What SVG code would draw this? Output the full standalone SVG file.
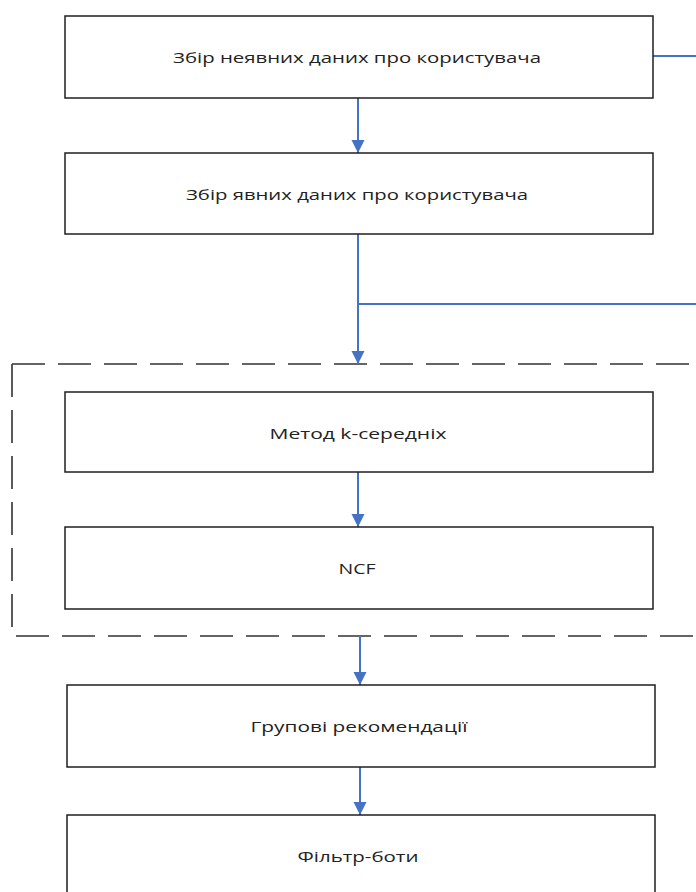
<svg xmlns="http://www.w3.org/2000/svg" width="696" height="892" viewBox="0 0 696 892">
<style>
.box{fill:#fff;stroke:#1f1f1f;stroke-width:1.5}
.lbl{font-family:"Open Sans","Noto Sans","Liberation Sans",sans-serif;font-size:15px;fill:#222;text-anchor:middle;dominant-baseline:central}
.con{fill:none;stroke:#4472C4;stroke-width:2}
.grp{fill:none;stroke:#333;stroke-width:1.6;stroke-dasharray:33 13}
</style>
<defs>
<marker id="ah" markerUnits="userSpaceOnUse" markerWidth="14" markerHeight="14" viewBox="0 0 12 13" refX="6" refY="13" orient="auto-start-reverse">
<path d="M0,0 L12,0 L6,13 z" fill="#4472C4" transform="rotate(-90 6 6.5)"/>
</marker>
<marker id="arr" markerUnits="userSpaceOnUse" markerWidth="13" markerHeight="14" viewBox="0 0 13 14" refX="13" refY="6.5" orient="auto">
<path d="M0,0 L13,6.5 L0,13 z" fill="#4472C4"/>
</marker>
</defs>
<rect width="696" height="892" fill="#fff"/>
<path class="grp" d="M12,364 H710 M12,364 V636 H710"/>
<g id="connectors">
<path class="con" d="M653,56 H700"/>
<path class="con" d="M358,98 V153" marker-end="url(#arr)"/>
<path class="con" d="M358,234 V364" marker-end="url(#arr)"/>
<path class="con" d="M358,304 H700"/>
<path class="con" d="M358,472 V527" marker-end="url(#arr)"/>
<path class="con" d="M360,636 V685" marker-end="url(#arr)"/>
<path class="con" d="M360,767 V815" marker-end="url(#arr)"/>
</g>
<g id="n1"><rect class="box" x="65" y="16" width="588" height="82"/><text class="lbl" x="357" y="57" textLength="368" lengthAdjust="spacingAndGlyphs">Збір неявних даних про користувача</text></g>
<g id="n2"><rect class="box" x="65" y="153" width="588" height="81"/><text class="lbl" x="357" y="194" textLength="342" lengthAdjust="spacingAndGlyphs">Збір явних даних про користувача</text></g>
<g id="n3"><rect class="box" x="65" y="392" width="588" height="80"/><text class="lbl" x="358" y="433" textLength="177" lengthAdjust="spacingAndGlyphs">Метод k-середніх</text></g>
<g id="n4"><rect class="box" x="65" y="527" width="588" height="82"/><text class="lbl" x="357" y="568" textLength="37" lengthAdjust="spacingAndGlyphs">NCF</text></g>
<g id="n5"><rect class="box" x="67" y="685" width="588" height="82"/><text class="lbl" x="359" y="726" textLength="217" lengthAdjust="spacingAndGlyphs">Групові рекомендації</text></g>
<g id="n6"><rect class="box" x="67" y="815" width="588" height="90"/><text class="lbl" x="358" y="856" textLength="121" lengthAdjust="spacingAndGlyphs">Фільтр-боти</text></g>
</svg>
